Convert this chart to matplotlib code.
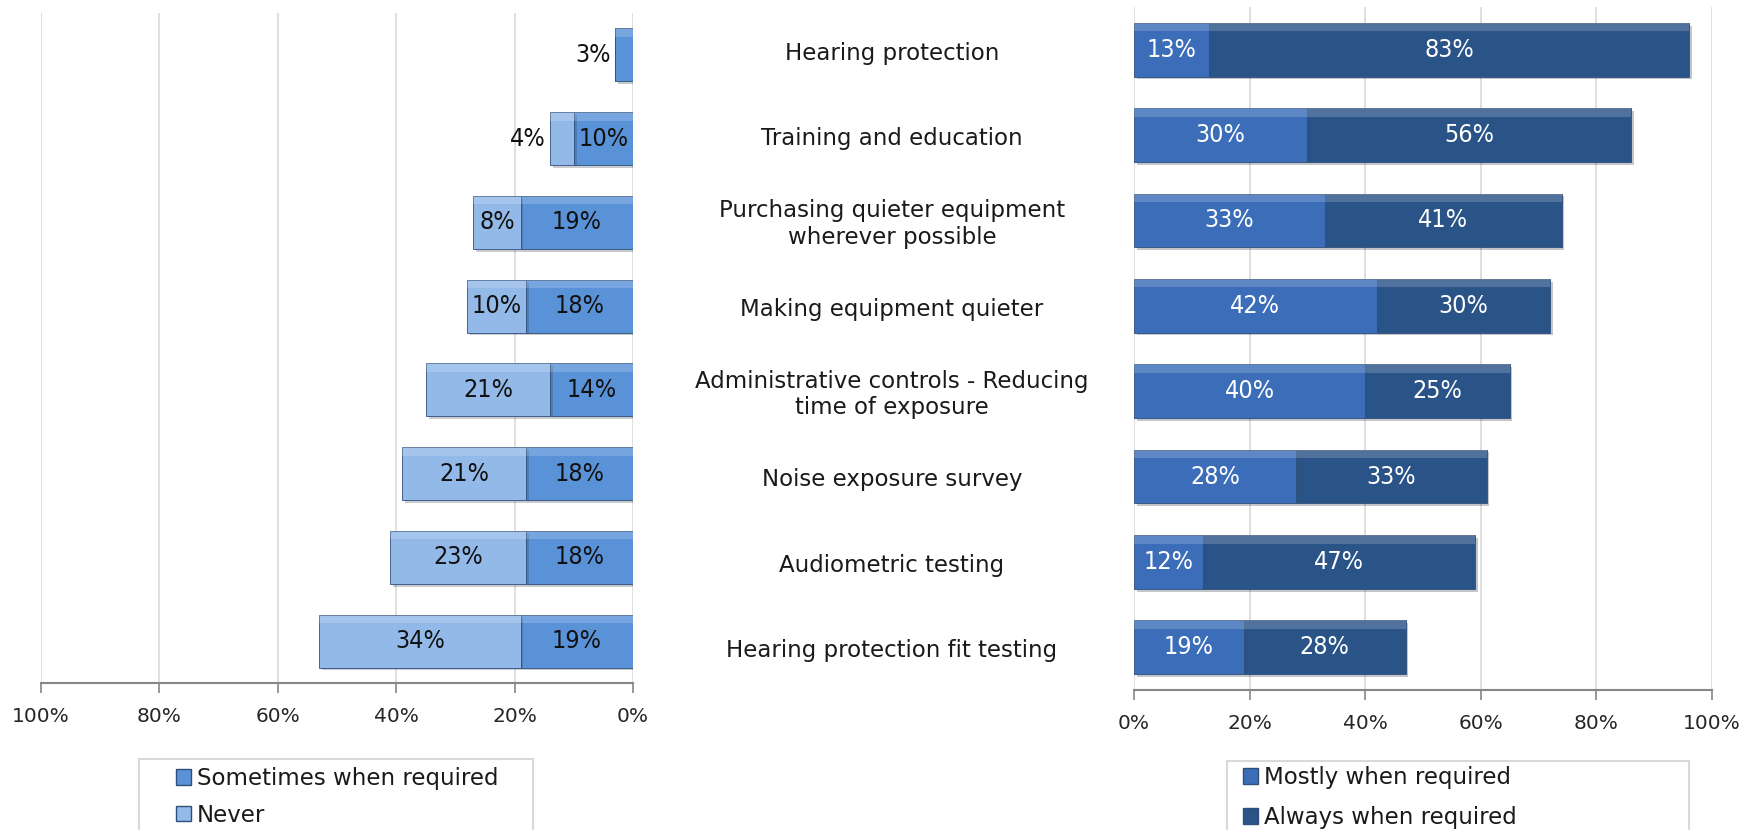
import matplotlib
matplotlib.use("Agg")
import matplotlib.pyplot as plt
import matplotlib.patheffects as pe
from matplotlib.patches import Patch, Rectangle
from matplotlib.transforms import blended_transform_factory
import numpy as np

categories = [
    "Hearing protection",
    "Training and education",
    "Purchasing quieter equipment\nwherever possible",
    "Making equipment quieter",
    "Administrative controls - Reducing\ntime of exposure",
    "Noise exposure survey",
    "Audiometric testing",
    "Hearing protection fit testing",
]
sometimes = [3, 10, 19, 18, 14, 18, 18, 19]
never = [0, 4, 8, 10, 21, 21, 23, 34]
mostly = [13, 30, 33, 42, 40, 28, 12, 19]
always = [83, 56, 41, 30, 25, 33, 47, 28]
ticks = [0, 20, 40, 60, 80, 100]
tick_labels = ["0%", "20%", "40%", "60%", "80%", "100%"]

C_SOMETIMES = "#5A92D8"
C_NEVER = "#93B9E9"
C_MOSTLY = "#3B6DB9"
C_ALWAYS = "#2A5388"

FONT = ["DejaVu Sans"]
plt.rcParams["font.family"] = FONT

W, H = 1748, 830
fig = plt.figure(figsize=(W / 100, H / 100), dpi=100)
fig.patch.set_facecolor("white")

axL = fig.add_axes([41 / W, (H - 683) / H, (633 - 41) / W, (683 - 13) / H])
axR = fig.add_axes([1134 / W, (H - 690) / H, (1712 - 1134) / W, (690 - 7) / H])

y = np.arange(len(categories))
bh = 0.63
shadow = [pe.SimplePatchShadow(offset=(2, -2), alpha=0.25), pe.Normal()]
LBL_FONT = dict(fontsize=18, family=["DejaVu Sans"], fontstretch="condensed",
                fontweight="light")


def draw_seg(ax, left, width, color, txtcolor):
    bars = ax.barh(y, width, left=left, height=bh, color=color,
                   edgecolor="#2f4f7a", linewidth=0.6, zorder=3)
    for b in bars:
        b.set_path_effects(shadow)
    # top highlight to mimic bevel
    ax.barh(y - bh / 2 + 0.05, width, left=left, height=0.1,
            color="white", alpha=0.18, linewidth=0, zorder=4)
    for yi, l, w in zip(y, left, width):
        if w <= 0:
            continue
        if w < 5:
            ax.text(l + w + 0.8, yi, f"{w}%", ha="right", va="center",
                    color=txtcolor, zorder=5, **LBL_FONT)
        else:
            ax.text(l + w / 2, yi, f"{w}%", ha="center", va="center",
                    color=txtcolor, zorder=5, **LBL_FONT)


# Left chart (reversed x)
draw_seg(axL, [0] * len(y), sometimes, C_SOMETIMES, "#111111")
draw_seg(axL, sometimes, never, C_NEVER, "#111111")
axL.set_xlim(100, 0)

# Right chart
draw_seg(axR, [0] * len(y), mostly, C_MOSTLY, "white")
draw_seg(axR, mostly, always, C_ALWAYS, "white")
axR.set_xlim(0, 100)

for ax in (axL, axR):
    ax.set_ylim(len(categories) - 0.5, -0.5)
    ax.set_yticks([])
    ax.set_xticks(ticks)
    ax.set_xticklabels(tick_labels, fontsize=14.5, color="#262626")
    ax.grid(axis="x", color="#D9D9D9", linewidth=1.2, zorder=0)
    ax.set_axisbelow(True)
    for s in ("top", "left", "right"):
        ax.spines[s].set_visible(False)
    ax.spines["bottom"].set_color("#868686")
    ax.spines["bottom"].set_linewidth(1.5)
    ax.tick_params(axis="x", direction="out", length=7, width=1.2,
                   color="#868686", pad=10)
    ax.set_facecolor("none")

# Category labels in the middle
trans = blended_transform_factory(fig.transFigure, axR.transData)
for yi, c in zip(y, categories):
    fig.text(892 / W, yi + 0.04, c, transform=trans, ha="center", va="center",
             fontsize=16.5, color="#1a1a1a", linespacing=1.2)

# Legends
def legend_box(x0, x1, ytop, handles, labels, tx, ty, spacing):
    fig.patches.append(Rectangle((x0 / W, (H - ytop - 200) / H),
                                 (x1 - x0) / W, 200 / H,
                                 transform=fig.transFigure, fill=False,
                                 edgecolor="#D9D9D9", linewidth=1.5))
    fig.legend(handles, labels, loc="upper left",
               bbox_to_anchor=(tx / W, (H - ty) / H), frameon=False,
               fontsize=16.5, handlelength=0.65, handleheight=0.65,
               handletextpad=0.25, labelspacing=spacing, borderpad=0,
               borderaxespad=0, labelcolor="#1a1a1a")

legend_box(139, 533, 759,
           [Patch(facecolor=C_SOMETIMES, edgecolor="#2f4f7a"),
            Patch(facecolor=C_NEVER, edgecolor="#2f4f7a")],
           ["Sometimes when required", "Never"], 176, 767, 0.6)
legend_box(1227, 1689, 761,
           [Patch(facecolor=C_MOSTLY, edgecolor="#2f4f7a"),
            Patch(facecolor=C_ALWAYS, edgecolor="#2f4f7a")],
           ["Mostly when required", "Always when required"], 1243, 766, 0.75)

fig.savefig("out.png", dpi=100, facecolor="white")
